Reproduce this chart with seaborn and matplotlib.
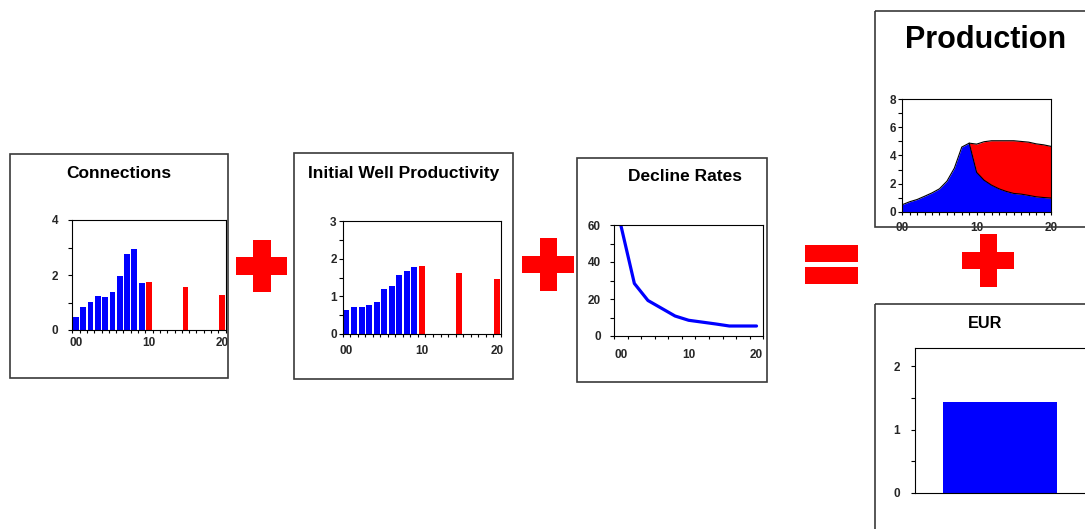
import numpy as np
import pandas as pd
import matplotlib
matplotlib.use("Agg")
import matplotlib.pyplot as plt
import seaborn as sns
from matplotlib.patches import Rectangle

# ---------------- data ----------------
hist_years = [0, 1, 2, 3, 4, 5, 6, 7, 8, 9]
new_years = [10, 15, 20]
conn_hist = [0.48, 0.82, 1.03, 1.25, 1.21, 1.37, 1.96, 2.78, 2.95, 1.72]
conn_new = [1.75, 1.58, 1.27]
iwp_hist = [0.64, 0.73, 0.73, 0.78, 0.85, 1.20, 1.28, 1.57, 1.66, 1.77]
iwp_new = [1.80, 1.61, 1.46]
decline_years = [0, 2, 4, 6, 8, 10, 12, 14, 16, 18, 20]
decline_rate = [60, 28.4, 19.2, 15.0, 10.8, 8.5, 7.5, 6.5, 5.4, 5.4, 5.4]
prod_years = list(range(21))
prod_base = [0.50, 0.71, 0.87, 1.10, 1.34, 1.63, 2.17, 3.10, 4.60, 4.88, 2.80,
             2.24, 1.89, 1.63, 1.44, 1.30, 1.25, 1.16, 1.06, 1.01, 0.97]
prod_new = [0, 0, 0, 0, 0, 0, 0, 0, 0, 0, 2.01,
            2.74, 3.16, 3.42, 3.61, 3.75, 3.75, 3.79, 3.77, 3.75, 3.68]
eur_label = ["EUR"]
eur_value = [1.44]
year_ticks = [0, 10, 20]
year_labels = ["00", "10", "20"]

BLUE = "#0000FF"
RED = "#FF0000"
TICK_FS = 8.5

sns.set_theme(style="white")
plt.rcParams["font.family"] = ["Liberation Sans", "DejaVu Sans"]
plt.rcParams["font.weight"] = "bold"

W, H = 1085, 529
fig = plt.figure(figsize=(W / 100, H / 100), dpi=100)


def rect(l, t, r, b):
    return [l / W, 1 - b / H, (r - l) / W, (b - t) / H]


def style(ax, ylim, ymaj, ymin, ypad, xpad):
    ax.set_xlabel("")
    ax.set_ylabel("")
    ax.set_ylim(*ylim)
    ax.set_yticks(ymaj)
    ax.set_yticks(ymin, minor=True)
    ax.set_yticklabels([f"{v:g}" for v in ymaj])
    for s in ax.spines.values():
        s.set_visible(True)
        s.set_color("#000000")
        s.set_linewidth(0.8)
    ax.tick_params(axis="y", which="both", left=True, direction="out",
                   length=3, width=0.8, color="#000000")
    ax.tick_params(axis="y", which="major", labelsize=TICK_FS, pad=ypad)
    ax.tick_params(axis="x", which="major", labelsize=TICK_FS, pad=xpad)
    for t in ax.get_yticklabels() + ax.get_xticklabels():
        t.set_fontweight("bold")


def bar_panel(box, hist, new, ylim, ymaj, ymin, ypad, xpad):
    ax = fig.add_axes(rect(*box))
    df = pd.DataFrame({
        "year": hist_years + new_years,
        "value": hist + new,
        "group": ["hist"] * len(hist) + ["new"] * len(new),
    })
    sns.barplot(data=df, x="year", y="value", hue="group",
                palette={"hist": BLUE, "new": RED}, native_scale=True,
                dodge=False, width=0.8, saturation=1, errorbar=None,
                legend=False, linewidth=0, ax=ax)
    ax.set_xlim(-0.5, 20.5)
    ax.set_xticks(year_ticks)
    ax.set_xticklabels(year_labels)
    ax.set_xticks(np.arange(-0.5, 21, 1), minor=True)
    style(ax, ylim, ymaj, ymin, ypad, xpad)
    ax.tick_params(axis="x", which="major", bottom=True, length=0)
    ax.tick_params(axis="x", which="minor", bottom=True, direction="out",
                   length=2.2, width=0.8, color="#000000")
    return ax


# Connections
bar_panel((72.3, 220, 225.7, 330), conn_hist, conn_new, (0, 4), [0, 2, 4], [1, 3], 7.2, 5.2)
# Initial well productivity
bar_panel((342.7, 221, 500.7, 334), iwp_hist, iwp_new, (0, 3), [0, 1, 2, 3], [0.5, 1.5, 2.5], 1.3, 8.2)

# Decline rates
ax3 = fig.add_axes(rect(614, 225, 763.3, 336))
sns.lineplot(x=decline_years, y=decline_rate, color=BLUE, linewidth=2.3, ax=ax3)
ax3.set_xlim(-1, 21)
ax3.set_xticks(year_ticks)
ax3.set_xticklabels(year_labels)
ax3.set_xticks(np.arange(-1, 22, 2), minor=True)
style(ax3, (0, 60), [0, 20, 40, 60], [10, 30, 50], 6.4, 9.2)
ax3.tick_params(axis="x", which="major", bottom=True, length=0)
ax3.tick_params(axis="x", which="minor", bottom=True, direction="out",
                length=2.2, width=0.8, color="#000000")

# Production
ax4 = fig.add_axes(rect(902.3, 99.3, 1051, 211.7))
base = np.array(prod_base)
new = np.array(prod_new)
ax4.fill_between(prod_years, 0, base, color=BLUE, linewidth=0)
ax4.fill_between(prod_years[9:], base[9:], base[9:] + new[9:], color=RED, linewidth=0)
sns.lineplot(x=prod_years, y=base, color="#000000", linewidth=0.8, ax=ax4)
sns.lineplot(x=prod_years[9:], y=(base + new)[9:], color="#000000", linewidth=0.8, ax=ax4)
ax4.set_xlim(0, 20)
ax4.set_xticks(year_ticks)
ax4.set_xticklabels(year_labels)
ax4.set_xticks(np.arange(0, 21, 1), minor=True)
style(ax4, (0, 8), [0, 2, 4, 6, 8], [1, 3, 5, 7], 1.2, 5.0)
ax4.tick_params(axis="x", which="both", bottom=True, direction="out",
                length=2.2, width=0.8, color="#000000")

# EUR
ax5 = fig.add_axes(rect(915, 348, 1085, 492.7))
sns.barplot(x=eur_label, y=eur_value, color=BLUE, saturation=1, width=0.674,
            errorbar=None, linewidth=0, ax=ax5)
ax5.set_xlim(-0.5, 0.5)
ax5.set_xticks([])
style(ax5, (0, 2.29), [0, 1, 2], [0.5, 1.5], 8.0, 3)
ax5.spines["right"].set_visible(False)

# ---------------- overlay: frames, titles, operators ----------------
ov = fig.add_axes([0, 0, 1, 1], zorder=10)
ov.set_xlim(0, W)
ov.set_ylim(H, 0)
ov.axis("off")
ov.patch.set_alpha(0)

frames = [(10, 154, 228.3, 378.3), (294, 153, 513, 379), (577, 158, 767, 382),
          (875, 11, 1100, 227), (875, 304, 1100, 540)]
for l, t, r, b in frames:
    ov.add_patch(Rectangle((l, t), r - l, b - t, fill=False, edgecolor="#3a3a3a",
                           linewidth=1.2, clip_on=False))

titles = [("Connections", 119, 178.3, 12.5), ("Initial Well Productivity", 404, 178.3, 12.5),
          ("Decline Rates", 685, 181, 12.5), ("Production", 985.3, 48.3, 22),
          ("EUR", 985.3, 328.3, 11.7)]
for txt, x, y, fs in titles:
    ov.text(x, y, txt, ha="center", va="baseline", fontsize=fs, fontweight="bold",
            color="#000000")


def plus(l, t, r, b, vl, vr, ht, hb):
    ov.add_patch(Rectangle((vl, t), vr - vl, b - t, color=RED, linewidth=0))
    ov.add_patch(Rectangle((l, ht), r - l, hb - ht, color=RED, linewidth=0))


plus(235.7, 240, 287.3, 292, 253.3, 270.7, 257.3, 274.7)
plus(522.3, 238.3, 574.3, 290.7, 540, 557, 256, 273.3)
plus(962.3, 234, 1014.3, 286.7, 980, 997.3, 251.7, 269.3)
ov.add_patch(Rectangle((805, 245), 52.7, 16.7, color=RED, linewidth=0))
ov.add_patch(Rectangle((805, 266.7), 52.7, 17.3, color=RED, linewidth=0))

fig.savefig("out.png", dpi=100)
